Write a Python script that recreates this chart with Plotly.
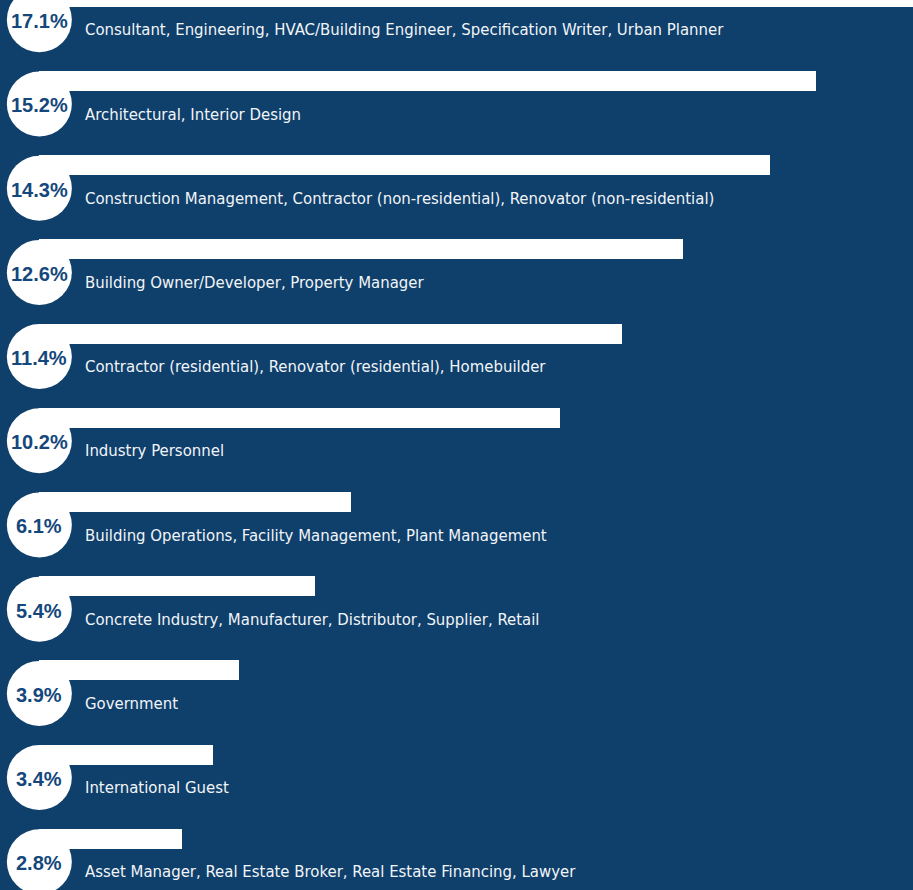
import plotly.graph_objects as go

categories = [
    "Consultant, Engineering, HVAC/Building Engineer, Specification Writer, Urban Planner",
    "Architectural, Interior Design",
    "Construction Management, Contractor (non-residential), Renovator (non-residential)",
    "Building Owner/Developer, Property Manager",
    "Contractor (residential), Renovator (residential), Homebuilder",
    "Industry Personnel",
    "Building Operations, Facility Management, Plant Management",
    "Concrete Industry, Manufacturer, Distributor, Supplier, Retail",
    "Government",
    "International Guest",
    "Asset Manager, Real Estate Broker, Real Estate Financing, Lawyer",
]
percentages = [17.1, 15.2, 14.3, 12.6, 11.4, 10.2, 6.1, 5.4, 3.9, 3.4, 2.8]
pct_labels = ["17.1%", "15.2%", "14.3%", "12.6%", "11.4%", "10.2%",
              "6.1%", "5.4%", "3.9%", "3.4%", "2.8%"]

BG = "#0f3f6b"
PCT_COLOR = "#14477b"

rows = list(range(len(categories)))

fig = go.Figure()
fig.add_trace(go.Bar(
    x=percentages, y=rows, orientation="h", base=0, width=0.2375,
    marker=dict(color="white", line=dict(width=0)),
    hoverinfo="skip", showlegend=False,
))
circle_y = [r + 0.273 for r in rows]
fig.add_trace(go.Scatter(
    x=[0.0] * len(rows), y=circle_y, mode="markers",
    marker=dict(size=65, color="white", line=dict(width=0)),
    hoverinfo="skip", showlegend=False, cliponaxis=False,
))

annotations = []
for r, (cat, lab) in enumerate(zip(categories, pct_labels)):
    annotations.append(dict(
        x=0.0, y=r + 0.29, xref="x", yref="y", text=lab, showarrow=False,
        xanchor="center", yanchor="middle",
        font=dict(family="Liberation Sans, Arial, sans-serif", size=20,
                  color=PCT_COLOR, weight="bold"),
    ))
    annotations.append(dict(
        x=0.855, y=r + 0.394, xref="x", yref="y", text=cat, showarrow=False,
        xanchor="left", yanchor="middle",
        font=dict(family="DejaVu Sans Condensed, sans-serif",
                  size=16.6, color="#f2f5f8"),
    ))

fig.update_layout(
    width=913, height=890,
    margin=dict(l=0, r=0, t=0, b=0),
    paper_bgcolor=BG, plot_bgcolor=BG,
    xaxis=dict(range=[-0.77, 17.1], visible=False, fixedrange=True),
    yaxis=dict(range=[10.608, 0.038], visible=False, fixedrange=True),
    annotations=annotations,
    bargap=0,
)
fig.write_html(
    "out.html",
    config={"displayModeBar": False, "staticPlot": True},
    post_script="document.body.style.margin='0px';document.body.style.background='%s';" % BG,
)
